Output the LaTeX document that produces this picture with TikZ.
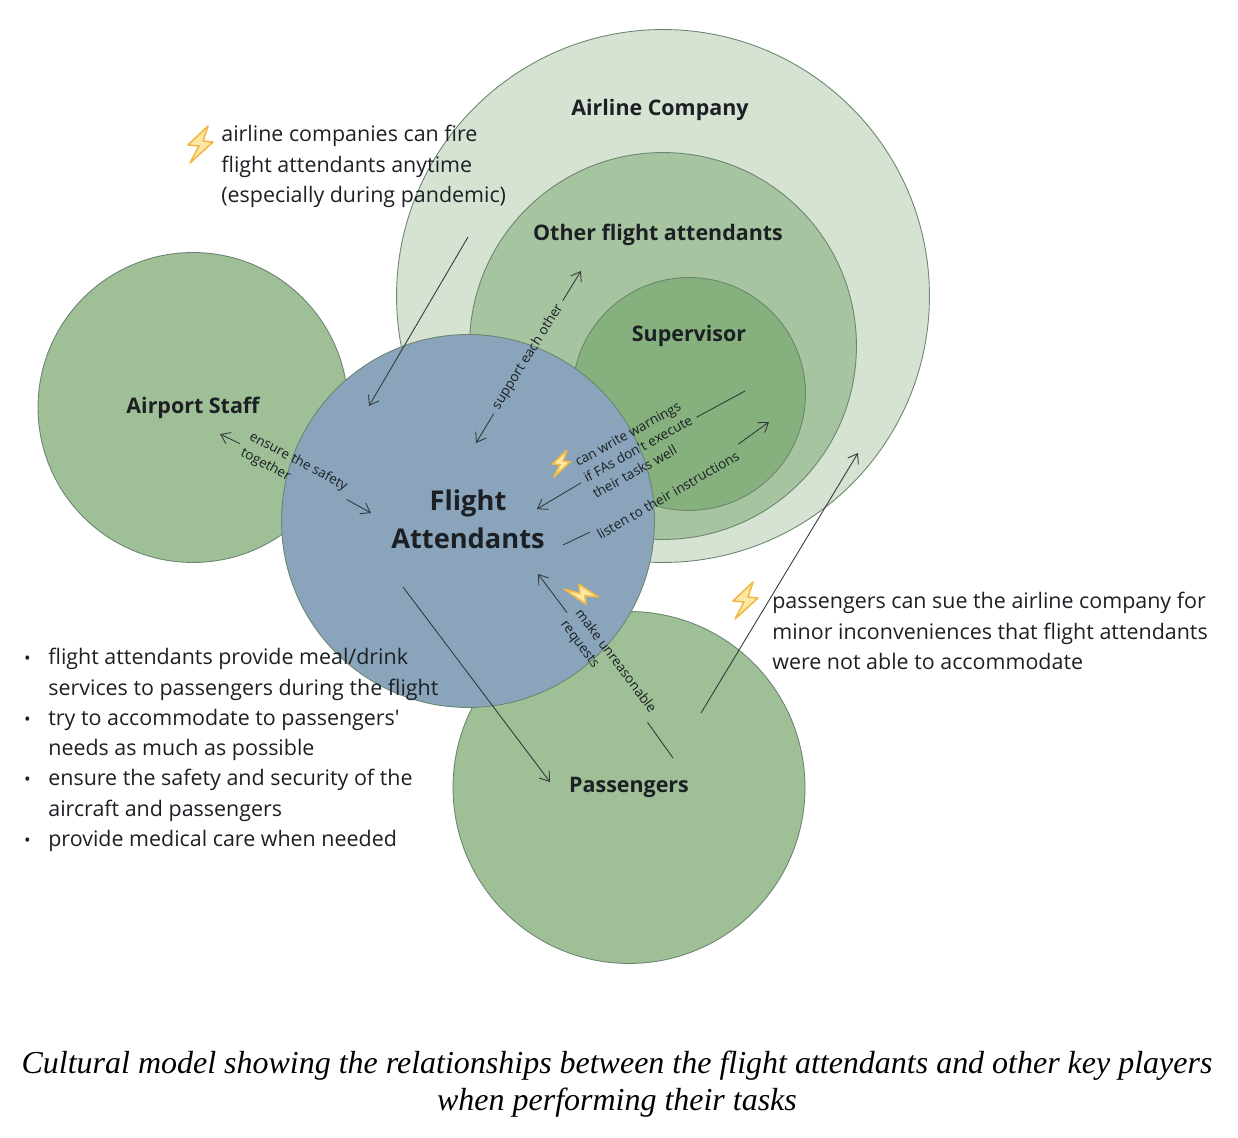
\documentclass[tikz,border=0pt]{standalone}
\usepackage{fontspec}
\setmainfont{Open Sans}
\newfontfamily\capfont{Liberation Serif}
\definecolor{inkc}{HTML}{1C2024}
\definecolor{linec}{HTML}{33393A}
\definecolor{rimc}{HTML}{6B8570}
\definecolor{airlinec}{HTML}{D6E3D3}
\definecolor{otherc}{HTML}{A7C4A1}
\definecolor{superc}{HTML}{86B07E}
\definecolor{sidec}{HTML}{9FBF97}
\definecolor{fac}{HTML}{8AA5BB}
\definecolor{boltc}{HTML}{F3B844}
\definecolor{boltf}{HTML}{FCE8A6}
\tikzset{
    bubble/.style={circle, draw=rimc, line width=0.5pt, inner sep=0pt},
    head/.style={font=\fontsize{12.2}{14}\selectfont\bfseries, text=inkc, inner sep=0pt},
    note/.style={font=\fontsize{12.2}{17.25}\selectfont, text=inkc, align=left, inner sep=0pt},
    tag/.style={font=\fontsize{7.7}{10.4}\selectfont, text=inkc, align=left, inner sep=3pt},
    link/.style={draw=linec, line width=0.5pt},
    arrowed/.style={link, ->, >={Straight Barb[length=5pt,width=7pt]}},
    bolt/.pic={
        \filldraw[draw=boltc, fill=boltf, line width=0.9pt, line join=round]
            (8,-19) -- (-12,0) -- (-1,1) -- (-10,18) -- (13,-3) -- (3,-4) -- cycle;
    },
}
\usetikzlibrary{arrows.meta}
\newcommand{\bul}{\llap{\raisebox{0pt}{\fontsize{10}{10}\selectfont•}\hspace{10pt}}}
\begin{document}
\begin{tikzpicture}[x=0.02cm, y=-0.02cm]
    \useasboundingbox (0,0) rectangle (1238,1138);
    \node[bubble, fill=airlinec, minimum size=10.66cm] (airline) at (663,296) {};
    \node[bubble, fill=otherc, minimum size=7.74cm] (other) at (663,346) {};
    \node[bubble, fill=superc, minimum size=4.66cm] (super) at (689,394) {};
    \node[bubble, fill=sidec, minimum size=6.2cm] (staff) at (193,407.5) {};
    \node[bubble, fill=sidec, minimum size=7.04cm] (pass) at (629,787.5) {};
    \node[bubble, fill=fac, minimum size=7.46cm] (fa) at (468,521) {};

    \node[head] (airlinetxt) at (660,110) {Airline Company};
    \node[head] (othertxt) at (658,235) {Other flight attendants};
    \node[head] (supertxt) at (689,336) {Supervisor};
    \node[head] (stafftxt) at (193,408) {Airport Staff};
    \node[head] (passtxt) at (629,787) {Passengers};
    \node[head, font=\fontsize{15.5}{21.5}\selectfont\bfseries, align=center] (fatxt) at (468,519) {Flight\\Attendants};

    \node[note, anchor=north west] (firetxt) at (221,125) {airline companies can fire\\flight attendants anytime\\(especially during pandemic)};
    \node[note, anchor=north west] (suetxt) at (772,592) {passengers can sue the airline company for\\minor inconveniences that flight attendants\\were not able to accommodate};
    \node[note, anchor=north west] (dutytxt) at (48,648) {\bul flight attendants provide meal/drink\\services to passengers during the flight\\\bul try to accommodate to passengers\textquotesingle\\needs as much as possible\\\bul ensure the safety and security of the\\aircraft and passengers\\\bul provide medical care when needed};
    \node[font=\capfont\itshape\fontsize{18.2}{21}\selectfont, align=center, text=black, inner sep=0pt] (captxt) at (617,1084) {Cultural model showing the relationships between the flight attendants and other key players\\when performing their tasks};

    \coordinate (firefrom) at (468,237);
    \coordinate (fireto) at (369,406);
    \draw[arrowed] (firefrom) -- (fireto);
    \coordinate (servefrom) at (403,587);
    \coordinate (serveto) at (550,782);
    \draw[arrowed] (servefrom) -- (serveto);
    \coordinate (suefrom) at (701,713);
    \coordinate (sueto) at (858,453);
    \draw[arrowed] (suefrom) -- (sueto);

    \coordinate (supportup) at (581,271);
    \coordinate (supportdown) at (476,443);
    \node[tag, rotate=58] (supporttxt) at (528,357) {support each other};
    \draw[arrowed] (supporttxt) -- (supportup);
    \draw[arrowed] (supporttxt) -- (supportdown);

    \coordinate (safeleft) at (220,434);
    \coordinate (saferight) at (371,513);
    \node[tag, rotate=-28] (safetxt) at (294,470) {ensure the safety\\together};
    \draw[arrowed] (safetxt) -- (safeleft);
    \draw[arrowed] (safetxt) -- (saferight);

    \coordinate (warnfrom) at (745,391);
    \coordinate (warnto) at (537,509);
    \node[tag, rotate=29] (warntxt) at (638,449) {can write warnings\\if FAs don\textquotesingle t execute\\their tasks well};
    \draw[link] (warnfrom) -- (warntxt);
    \draw[arrowed] (warntxt) -- (warnto);

    \coordinate (listenfrom) at (563,545);
    \coordinate (listento) at (769,422);
    \node[tag, rotate=30] (listentxt) at (668,495) {listen to their instructions};
    \draw[link] (listenfrom) -- (listentxt);
    \draw[arrowed] (listentxt) -- (listento);

    \coordinate (demandfrom) at (673,758);
    \coordinate (demandto) at (538,574);
    \node[tag, rotate=-53] (demandtxt) at (608,667) {make unreasonable\\requests};
    \draw[link] (demandfrom) -- (demandtxt);
    \draw[arrowed] (demandtxt) -- (demandto);

    \pic at (200,145) {bolt};
    \pic at (745,601) {bolt};
    \pic[scale=0.72] at (561,464) {bolt};
    \pic[scale=0.85, rotate=-77] at (581,594) {bolt};
\end{tikzpicture}
\end{document}
